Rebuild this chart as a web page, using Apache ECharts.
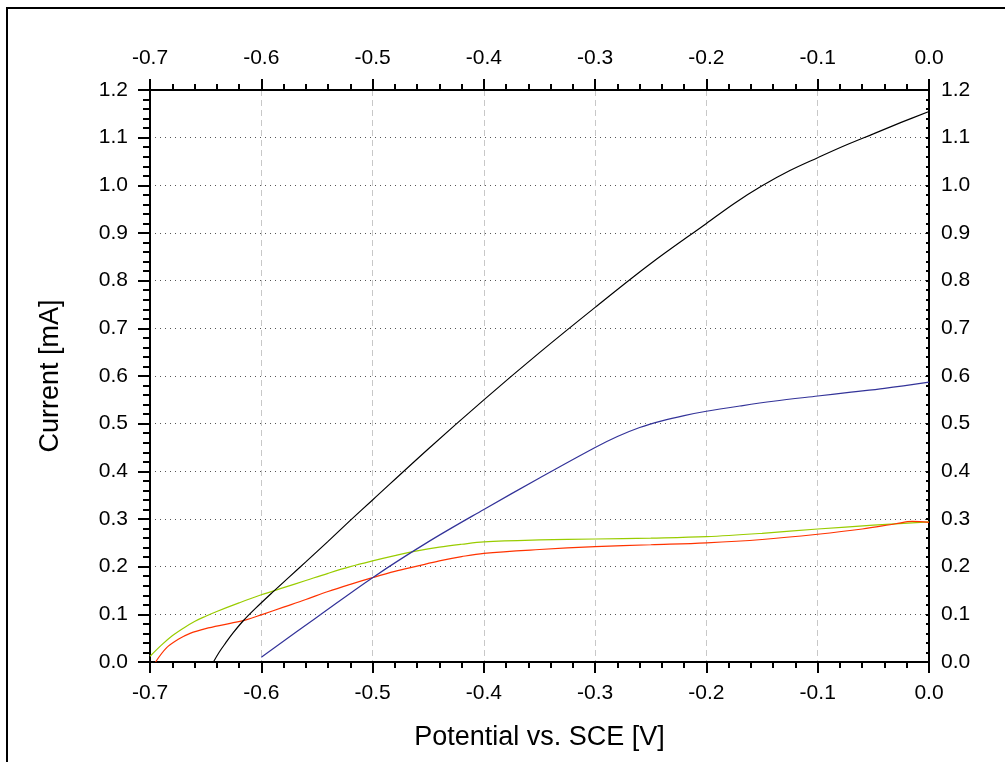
<!DOCTYPE html>
<html>
<head>
<meta charset="utf-8">
<script src="https://cdn.jsdelivr.net/npm/echarts@6/dist/echarts.min.js"></script>
<style>
  html, body { margin: 0; padding: 0; background: #fff; }
  #chart { width: 1005px; height: 762px; }
</style>
</head>
<body>
<div id="chart"></div>
<script>
// Polarisation curves: potential (V vs. SCE) and current (mA)
const blackPotential = [-0.643,-0.638,-0.632,-0.625,-0.616,-0.605,-0.59,-0.575,-0.56,-0.54,-0.52,-0.5,-0.45,-0.4,-0.35,-0.3,-0.25,-0.2,-0.175,-0.15,-0.125,-0.1,-0.075,-0.05,-0.025,0];
const blackCurrent   = [0,0.02,0.04,0.062,0.087,0.113,0.146,0.178,0.21,0.253,0.297,0.34,0.447,0.55,0.649,0.744,0.836,0.92,0.962,0.999,1.031,1.058,1.084,1.108,1.132,1.155];

const bluePotential = [-0.6,-0.55,-0.5,-0.45,-0.4,-0.35,-0.3,-0.28,-0.26,-0.24,-0.22,-0.2,-0.17,-0.14,-0.1,-0.07,-0.04,0];
const blueCurrent   = [0.01,0.094,0.177,0.252,0.32,0.386,0.45,0.473,0.492,0.506,0.517,0.526,0.537,0.547,0.558,0.566,0.574,0.587];

const greenPotential = [-0.7,-0.69,-0.68,-0.67,-0.66,-0.65,-0.64,-0.62,-0.6,-0.58,-0.56,-0.54,-0.52,-0.5,-0.48,-0.46,-0.44,-0.42,-0.4,-0.35,-0.3,-0.25,-0.2,-0.15,-0.1,-0.05,0];
const greenCurrent   = [0.012,0.035,0.055,0.071,0.085,0.096,0.106,0.124,0.141,0.156,0.171,0.186,0.2,0.212,0.223,0.233,0.241,0.247,0.252,0.256,0.258,0.26,0.263,0.27,0.279,0.287,0.294];

const redPotential = [-0.695,-0.685,-0.675,-0.664,-0.65,-0.63,-0.613,-0.6,-0.58,-0.56,-0.54,-0.52,-0.5,-0.48,-0.46,-0.44,-0.42,-0.4,-0.35,-0.3,-0.25,-0.2,-0.15,-0.1,-0.06,-0.03,-0.015,0];
const redCurrent   = [0,0.03,0.047,0.06,0.07,0.08,0.089,0.099,0.115,0.131,0.148,0.163,0.177,0.19,0.201,0.212,0.221,0.228,0.236,0.242,0.246,0.25,0.257,0.268,0.279,0.29,0.295,0.293];

const xAxisName = 'Potential vs. SCE [V]';
const yAxisName = 'Current [mA]';

const FONT = '"Liberation Sans", Arial, Helvetica, sans-serif';
const pairs = (xs, ys) => xs.map((x, i) => [x, ys[i]]);
const fmt = v => v.toFixed(1);

const chart = echarts.init(document.getElementById('chart'), null, { renderer: 'canvas' });

const xCommon = {
  type: 'value', min: -0.7, max: 0, interval: 0.1,
  axisLine: { show: true, onZero: false, lineStyle: { color: '#000', width: 2 } },
  axisTick: { show: true, inside: false, length: 11, lineStyle: { color: '#000', width: 2 } },
  minorTick: { show: true, splitNumber: 5, length: 6, lineStyle: { color: '#000', width: 2 } },
  axisLabel: { show: true, margin: 21, fontSize: 21, color: '#000', fontFamily: FONT, formatter: fmt, showMinLabel: true, showMaxLabel: true }
};

const yCommon = {
  type: 'value', min: 0, max: 1.2, interval: 0.1,
  axisLine: { show: true, onZero: false, lineStyle: { color: '#000', width: 2 } },
  axisLabel: { show: true, fontSize: 21, color: '#000', fontFamily: FONT, formatter: fmt, showMinLabel: true, showMaxLabel: true }
};

const lineSeries = (data, color) => ({
  type: 'line', data, showSymbol: false, symbol: 'none',
  smooth: 0.35, clip: true,
  lineStyle: { color, width: 1.2 }, z: 5
});

chart.setOption({
  animation: false,
  backgroundColor: '#fff',
  grid: { left: 150, right: 76, top: 90, bottom: 100, containLabel: false },
  xAxis: [
    Object.assign({}, xCommon, {
      position: 'bottom',
      splitLine: { show: true, lineStyle: { color: '#c8c8c8', type: [6, 4], width: 1 } },
      name: xAxisName, nameLocation: 'middle', nameGap: 62,
      nameTextStyle: { fontSize: 27, color: '#000', fontFamily: FONT }
    }),
    Object.assign({}, xCommon, {
      position: 'top',
      splitLine: { show: false }
    })
  ],
  yAxis: [
    Object.assign({}, yCommon, {
      position: 'left',
      axisTick: { show: true, inside: false, length: 12, lineStyle: { color: '#000', width: 2 } },
      minorTick: { show: true, splitNumber: 5, length: 7, lineStyle: { color: '#000', width: 2 } },
      axisLabel: Object.assign({}, yCommon.axisLabel, { margin: 22 }),
      splitLine: { show: true, lineStyle: { color: '#555', type: [1, 4], width: 1 } },
      name: yAxisName, nameLocation: 'middle', nameGap: 86,
      nameTextStyle: { fontSize: 27, color: '#000', fontFamily: FONT }
    }),
    Object.assign({}, yCommon, {
      position: 'right',
      axisTick: { show: true, inside: true, length: 3, lineStyle: { color: '#000', width: 2 } },
      minorTick: { show: true, splitNumber: 5, length: 3, lineStyle: { color: '#000', width: 2 } },
      axisLabel: Object.assign({}, yCommon.axisLabel, { margin: 12 }),
      splitLine: { show: false }
    })
  ],
  graphic: [{
    type: 'rect', silent: true, z: -10,
    shape: { x: 7, y: 8, width: 1100, height: 900 },
    style: { fill: 'none', stroke: '#000', lineWidth: 2 }
  }],
  series: [
    lineSeries(pairs(greenPotential, greenCurrent), '#99cc00'),
    lineSeries(pairs(redPotential, redCurrent), '#ff3300'),
    lineSeries(pairs(bluePotential, blueCurrent), '#333399'),
    lineSeries(pairs(blackPotential, blackCurrent), '#000000')
  ]
});
</script>
</body>
</html>
